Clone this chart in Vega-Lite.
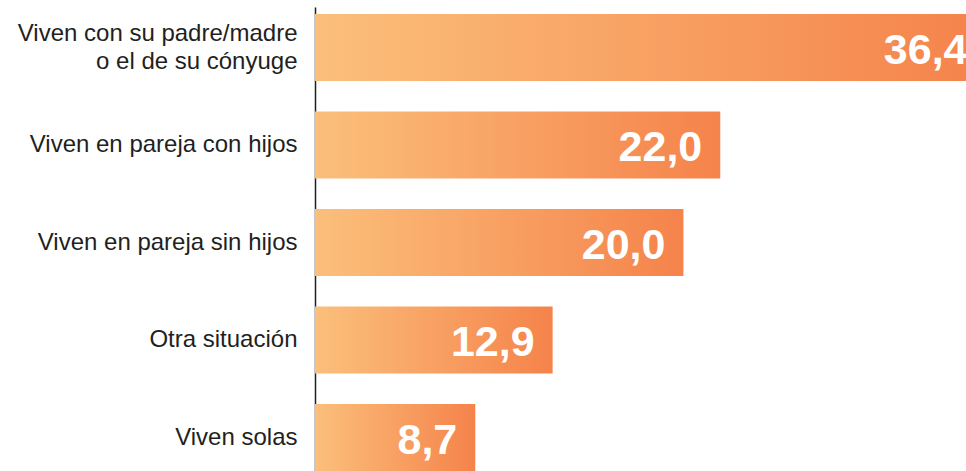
{
  "$schema": "https://vega.github.io/schema/vega-lite/v6.json",
  "width": 651,
  "height": 464,
  "autosize": {"type": "none"},
  "padding": {"left": 315, "top": 7, "right": 0, "bottom": 0},
  "background": "white",
  "config": {
    "view": {"stroke": null},
    "locale": {"number": {"decimal": ",", "thousands": ".", "grouping": [3], "currency": ["", " €"]}}
  },
  "data": {
    "values": [
      {"situacion": "Viven con su padre/madre\no el de su cónyuge", "pct": 36.4},
      {"situacion": "Viven en pareja con hijos", "pct": 22.0},
      {"situacion": "Viven en pareja sin hijos", "pct": 20.0},
      {"situacion": "Otra situación", "pct": 12.9},
      {"situacion": "Viven solas", "pct": 8.7}
    ]
  },
  "encoding": {
    "y": {
      "field": "situacion",
      "type": "nominal",
      "sort": "-x",
      "scale": {"paddingInner": 0.313, "paddingOuter": 0.036, "align": 1},
      "axis": {
        "title": null,
        "ticks": false,
        "labelPadding": 18,
        "labelFont": "Liberation Sans",
        "labelFontSize": 24,
        "labelColor": "#231F20",
        "labelLineHeight": 28,
        "labelLimit": 320,
        "labelOffset": {"expr": "indexof(datum.value, '\\n') >= 0 ? -14 : 0"},
        "labelExpr": "split(datum.label, '\\n')",
        "domainColor": "#231F20",
        "domainWidth": 1.5
      }
    },
    "x": {
      "field": "pct",
      "type": "quantitative",
      "scale": {"domain": [0, 35.34], "nice": false, "zero": true},
      "axis": null
    }
  },
  "layer": [
    {
      "mark": {
        "type": "bar",
        "clip": true,
        "color": {
          "gradient": "linear",
          "x1": 0, "y1": 0, "x2": 1, "y2": 0,
          "stops": [
            {"offset": 0, "color": "#FBBF7B"},
            {"offset": 1, "color": "#F5834B"}
          ]
        }
      }
    },
    {
      "mark": {
        "type": "text",
        "clip": true,
        "align": "right",
        "baseline": "alphabetic",
        "dx": -18,
        "dy": 16,
        "font": "Liberation Sans",
        "fontWeight": "bold",
        "fontSize": 43,
        "color": "white"
      },
      "encoding": {
        "text": {"field": "pct", "type": "quantitative", "format": ".1f"}
      }
    }
  ]
}
